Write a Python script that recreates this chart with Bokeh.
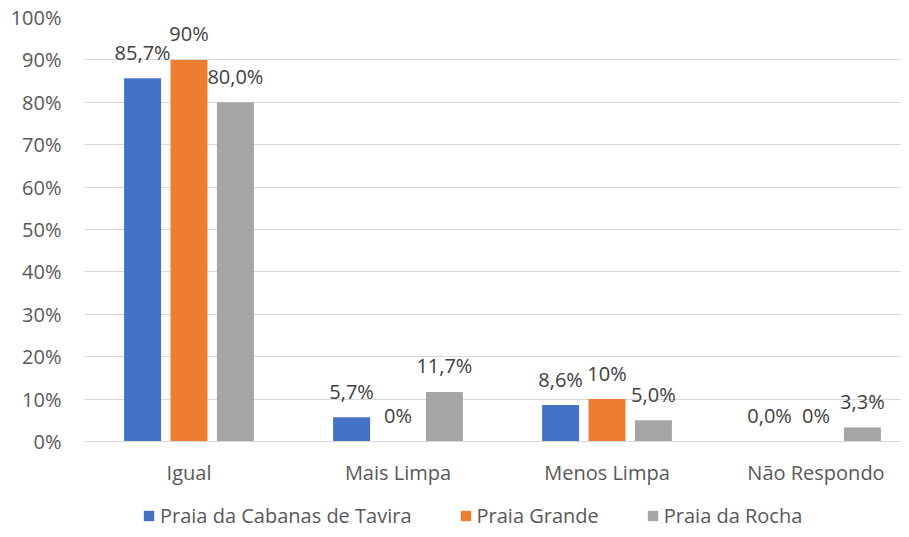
from bokeh.plotting import figure
from bokeh.layouts import column
from bokeh.models import (ColumnDataSource, Range1d, FixedTicker, PrintfTickFormatter,
                          Legend, LegendItem)
from bokeh.transform import dodge
from bokeh.embed import file_html
from bokeh.resources import INLINE

categories = ["Igual", "Mais Limpa", "Menos Limpa", "Não Respondo"]
series_names = ["Praia da Cabanas de Tavira", "Praia Grande", "Praia da Rocha"]
cabanas = [85.7, 5.7, 8.6, 0.0]
grande = [90, 0, 10, 0]
rocha = [80.0, 11.7, 5.0, 3.3]
decimals = [1, 0, 1]
y_ticks = [0, 10, 20, 30, 40, 50, 60, 70, 80, 90, 100]

colors = ["#4472C4", "#ED7D31", "#A5A5A5"]
FONT = "Open Sans"
FS = "20px"
W = 901
H_MAIN, H_LEG = 490, 39
LEFT, TOP, BOTTOM = 84, 17, 49
CAT_PX = 209.0
x_end = -0.5 + (W - LEFT) / CAT_PX

p = figure(width=W, height=H_MAIN, output_backend="svg", toolbar_location=None,
           x_range=Range1d(-0.5, x_end), y_range=Range1d(0, 100),
           min_border_left=LEFT, min_border_right=0, min_border_top=TOP,
           min_border_bottom=BOTTOM, outline_line_color=None)
p.background_fill_color = "white"
p.border_fill_color = "white"

xs = list(range(len(categories)))
fmt = lambda v, d: (f"{v:.{d}f}".replace(".", ",") + "%")
offsets = [-0.222, 0.0, 0.222]
for vals, name, col, off, d in zip([cabanas, grande, rocha], series_names, colors, offsets, decimals):
    src = ColumnDataSource(dict(x=xs, y=vals, lbl=[fmt(v, d) for v in vals]))
    p.vbar(x=dodge("x", off, range=p.x_range), top="y", width=0.177, source=src,
           fill_color=col, line_color=None)
    p.text(x=dodge("x", off, range=p.x_range), y="y", text="lbl", source=src,
           text_align="center", text_baseline="alphabetic", y_offset=-26,
           text_font_size=FS, text_color="#404040",
           text_font={"value": FONT})

# axes
p.xaxis.ticker = FixedTicker(ticks=xs)
p.xaxis.major_label_overrides = {i: c for i, c in enumerate(categories)}
p.yaxis.ticker = FixedTicker(ticks=y_ticks)
p.yaxis.formatter = PrintfTickFormatter(format="%d%%")
for ax in (p.xaxis[0], p.yaxis[0]):
    ax.major_tick_line_color = None
    ax.minor_tick_line_color = None
    ax.major_tick_out = 0
    ax.major_tick_in = 0
    ax.minor_tick_out = 0
    ax.minor_tick_in = 0
    ax.major_label_text_font = FONT
    ax.major_label_text_font_size = FS
    ax.major_label_text_color = "#595959"
p.xaxis.axis_line_color = "#D9D9D9"
p.yaxis.axis_line_color = None
p.yaxis.major_label_standoff = 23
p.xaxis.major_label_standoff = 17
p.xgrid.grid_line_color = None
p.ygrid.grid_line_color = "#D9D9D9"
p.ygrid.grid_line_width = 1

# legend strip (separate figure below the chart)
q = figure(width=W, height=H_LEG, output_backend="svg", toolbar_location=None,
           x_range=Range1d(0, 1), y_range=Range1d(0, 1),
           min_border=0, min_border_left=0, min_border_right=0,
           min_border_top=0, min_border_bottom=0, outline_line_color=None)
q.axis.visible = False
q.grid.visible = False
items = []
for name, col in zip(series_names, colors):
    # off-screen placeholder glyph, only used for the legend swatch
    r = q.rect(x=[-5], y=[-5], width=0.01, height=0.01, fill_color=col, line_color=None)
    items.append(LegendItem(label=name, renderers=[r]))
legend = Legend(items=items, orientation="horizontal", location=(58, 0),
                glyph_width=13, glyph_height=13, label_standoff=5, spacing=47,
                padding=0, margin=0, border_line_color=None,
                background_fill_alpha=0,
                label_text_font=FONT, label_text_font_size=FS,
                label_text_color="#595959")
q.add_layout(legend, "center")

layout = column(p, q, spacing=0)
open("out.html", "w").write(file_html(layout, INLINE))
